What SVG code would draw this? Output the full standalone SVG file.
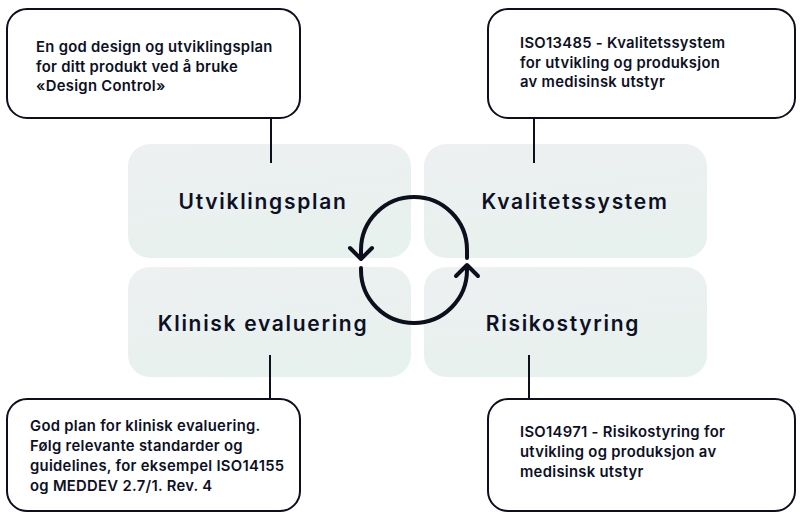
<svg xmlns="http://www.w3.org/2000/svg" width="800" height="522" viewBox="0 0 800 522">
<defs>
<linearGradient id="pg" x1="0" y1="0" x2="0.3" y2="1">
<stop offset="0" stop-color="#eef0f1"/>
<stop offset="1" stop-color="#e7f1ee"/>
</linearGradient>
<style>
.panel{fill:url(#pg);}
.call{fill:#ffffff;stroke:#0d0f1c;stroke-width:2;}
.ptxt{font-family:Inter,"Liberation Sans",sans-serif;font-weight:600;font-size:21px;letter-spacing:1.7px;fill:#0d1024;}
.ctxt{font-family:Inter,"Liberation Sans",sans-serif;font-weight:600;font-size:14.8px;letter-spacing:0.3px;fill:#0d1024;}
.conn{stroke:#0d0f1c;stroke-width:2;fill:none;}
.cyc{stroke:#0d0f1c;stroke-width:4;fill:none;stroke-linecap:round;stroke-linejoin:round;}
</style>
</defs>
<rect width="800" height="522" fill="#ffffff"/>

<g id="panel-utviklingsplan">
<rect class="panel" x="128" y="144" width="283" height="114" rx="22"/>
<text class="ptxt" x="263" y="209" text-anchor="middle">Utviklingsplan</text>
</g>
<g id="panel-kvalitetssystem">
<rect class="panel" x="424" y="144" width="283" height="114" rx="22"/>
<text class="ptxt" x="575" y="209" text-anchor="middle">Kvalitetssystem</text>
</g>
<g id="panel-klinisk">
<rect class="panel" x="128" y="267" width="283" height="110" rx="22"/>
<text class="ptxt" x="263" y="331" text-anchor="middle">Klinisk evaluering</text>
</g>
<g id="panel-risikostyring">
<rect class="panel" x="424" y="267" width="283" height="110" rx="22"/>
<text class="ptxt" x="563" y="331" text-anchor="middle">Risikostyring</text>
</g>

<g id="connectors">
<line class="conn" x1="271" y1="118" x2="271" y2="163"/>
<line class="conn" x1="534" y1="118" x2="534" y2="163"/>
<line class="conn" x1="270" y1="355" x2="270" y2="399"/>
<line class="conn" x1="529" y1="355" x2="529" y2="399"/>
</g>

<g id="cycle">
<path class="cyc" d="M 361 258 L 361 250 A 53 53 0 0 1 467 250 L 467 258"/>
<path class="cyc" d="M 350 248 L 361 259 L 372 248"/>
<path class="cyc" d="M 361 268 L 361 270 A 53 53 0 0 0 467 270 L 467 266"/>
<path class="cyc" d="M 456 276 L 467 265 L 478 276"/>
</g>

<g id="callout-design">
<rect class="call" x="7" y="9" width="293" height="109" rx="20"/>
<text class="ctxt" x="36" y="52">En god design og utviklingsplan</text>
<text class="ctxt" x="36" y="71.5">for ditt produkt ved å bruke</text>
<text class="ctxt" x="36" y="91">«Design Control»</text>
</g>
<g id="callout-iso13485">
<rect class="call" x="488" y="9" width="307" height="109" rx="20"/>
<text class="ctxt" x="520" y="48">ISO13485 - Kvalitetssystem</text>
<text class="ctxt" x="520" y="67.5">for utvikling og produksjon</text>
<text class="ctxt" x="520" y="87">av medisinsk utstyr</text>
</g>
<g id="callout-klinisk">
<rect class="call" x="7" y="399" width="293" height="112" rx="20"/>
<text class="ctxt" x="30" y="431">God plan for klinisk evaluering.</text>
<text class="ctxt" x="30" y="451">Følg relevante standarder og</text>
<text class="ctxt" x="30" y="471">guidelines, for eksempel ISO14155</text>
<text class="ctxt" x="30" y="491">og MEDDEV 2.7/1. Rev. 4</text>
</g>
<g id="callout-iso14971">
<rect class="call" x="488" y="399" width="307" height="112" rx="20"/>
<text class="ctxt" x="520" y="437">ISO14971 - Risikostyring for</text>
<text class="ctxt" x="520" y="457">utvikling og produksjon av</text>
<text class="ctxt" x="520" y="477">medisinsk utstyr</text>
</g>
</svg>
